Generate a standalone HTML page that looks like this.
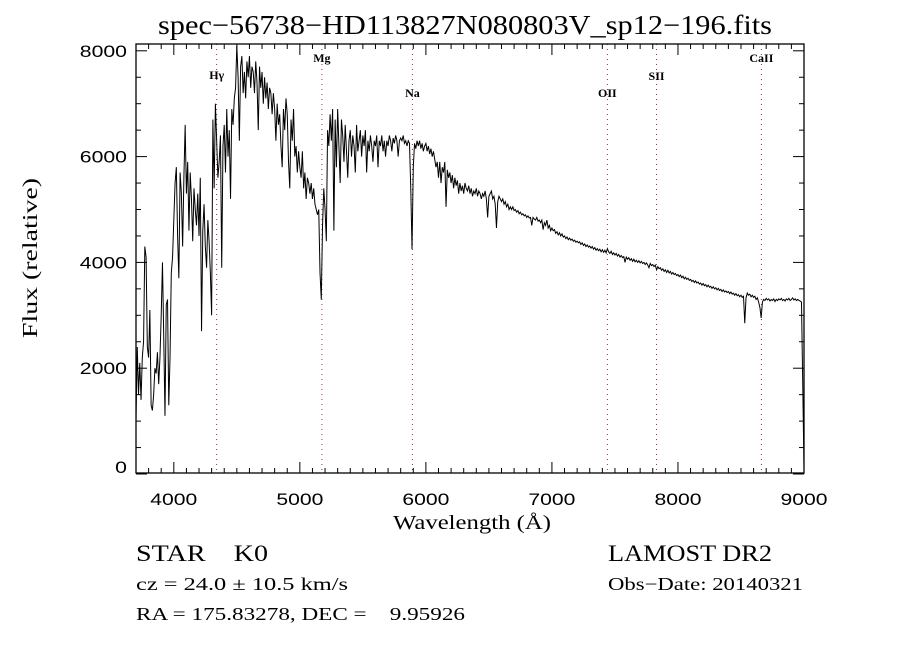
<!DOCTYPE html>
<html><head><meta charset="utf-8"><title>spec-56738 spectrum</title>
<style>
html,body{margin:0;padding:0;background:#fff;}
svg{display:block;}
text{fill:#000;}
</style></head>
<body>
<svg id="chart" width="900" height="650" viewBox="0 0 900 650" xmlns="http://www.w3.org/2000/svg">
<rect x="0" y="0" width="900" height="650" fill="#fff"/>
<text x="158" y="34" font-family="Liberation Serif, serif" font-size="27" textLength="614" lengthAdjust="spacingAndGlyphs">spec−56738−HD113827N080803V_sp12−196.fits</text>
<g id="lines"></g>
<g id="spec"></g>
<g id="axes"></g>
<text transform="translate(37,258) rotate(-90)" text-anchor="middle" font-family="Liberation Serif, serif" font-size="21" textLength="160" lengthAdjust="spacingAndGlyphs">Flux (relative)</text>
<text x="393" y="529" font-family="Liberation Serif, serif" font-size="20" textLength="158" lengthAdjust="spacingAndGlyphs">Wavelength (Å)</text>
<text x="136" y="561" font-family="Liberation Serif, serif" font-size="23" textLength="132" lengthAdjust="spacingAndGlyphs" xml:space="preserve">STAR    K0</text>
<text x="608" y="561" font-family="Liberation Serif, serif" font-size="23" textLength="164" lengthAdjust="spacingAndGlyphs">LAMOST DR2</text>
<text x="136" y="590" font-family="Liberation Serif, serif" font-size="18" textLength="212" lengthAdjust="spacingAndGlyphs">cz = 24.0 ± 10.5 km/s</text>
<text x="608" y="590" font-family="Liberation Serif, serif" font-size="18" textLength="195" lengthAdjust="spacingAndGlyphs">Obs−Date: 20140321</text>
<text x="136" y="620" font-family="Liberation Serif, serif" font-size="18" textLength="329" lengthAdjust="spacingAndGlyphs" xml:space="preserve">RA = 175.83278, DEC =    9.95926</text>
</svg>
<script>
const waveStart = 3700;
const waveStep = 10;
const flux = [
1000,2400,1500,2100,1400,2200,2500,4300,4100,2400,
2200,3100,1300,1200,1500,2000,1900,2300,1700,2200,
3000,4000,2600,1100,3200,3300,1300,2200,3800,4100,
4800,5500,5800,4500,3700,5700,5300,4300,5600,6600,
5300,5900,4600,5700,5200,4400,5400,5000,4700,5300,
4500,5600,2700,4600,5100,4300,3900,4800,4400,3800,
3000,6700,5400,7000,6300,5600,5900,6400,3900,6200,
6600,5700,6900,6000,6500,5200,6900,6600,7100,7300,
8100,7500,6300,7700,7900,7200,7600,7100,7800,7500,
7900,7300,7700,7600,7200,7800,7400,6500,7700,7300,
7600,7000,7500,7100,7400,6900,7300,7200,6800,7200,
6900,6300,7000,6600,6800,6200,5800,6900,6500,7100,
6800,5900,5400,6700,6300,6900,6000,6200,5700,6100,
5800,5600,6100,5400,5700,5200,5600,5500,5300,5500,
5200,5400,5100,5000,4900,5000,3800,3300,4700,5400,
5000,4400,6500,6200,6800,6300,6900,4600,6700,5800,
6900,6200,5500,6700,6400,5900,6600,6100,5600,6300,
6500,6000,6400,6200,5700,6600,6100,6300,6500,6000,
6400,6200,6500,5700,6300,6100,6400,6200,5900,6300,
6200,6400,5800,6300,6200,6400,6100,6300,6000,6300,
6200,6400,6300,6100,6350,6250,6400,6300,6000,6300,
6350,6300,6400,6250,6300,6200,6300,6250,5400,4250,
5800,6250,6150,6300,6200,6300,6150,6250,6100,6200,
6250,6100,6200,6050,6150,6000,6100,5950,5800,5900,
5600,5900,5500,5800,5700,5900,5050,5750,5600,5700,
5500,5650,5400,5600,5450,5550,5300,5500,5350,5450,
5300,5500,5400,5350,5450,5300,5400,5250,5350,5300,
5400,5250,5350,5300,5200,5300,5250,5350,5200,4850,
5250,5300,5350,5200,5250,5100,4650,5150,5250,5200,
5150,5200,5100,5150,5050,5100,5000,5050,5000,5050,
4980,5000,4950,4980,4920,4950,4900,4920,4880,4900,
4850,4880,4840,4850,4700,4850,4820,4800,4850,4780,
4800,4750,4800,4620,4750,4700,4800,4650,4700,4600,
4650,4600,4620,4550,4580,4520,4560,4500,4540,4480,
4500,4450,4480,4430,4460,4420,4440,4400,4420,4380,
4400,4370,4390,4340,4370,4320,4350,4300,4330,4290,
4310,4270,4300,4250,4280,4230,4260,4220,4250,4200,
4240,4190,4230,4180,4260,4200,4170,4210,4150,4180,
4140,4170,4120,4150,4100,4130,4090,4110,4000,4100,
4060,4090,4040,4070,4020,4060,4010,4040,4000,4030,
3990,4020,3980,4000,3960,3990,3950,3900,3980,3940,
3960,3920,3950,3860,3920,3880,3900,3850,3880,3830,
3860,3810,3850,3800,3830,3780,3810,3770,3790,3750,
3770,3730,3760,3710,3740,3690,3720,3680,3700,3660,
3680,3640,3660,3620,3650,3610,3630,3590,3610,3570,
3600,3560,3580,3540,3570,3530,3550,3510,3540,3500,
3520,3480,3510,3470,3490,3450,3480,3440,3460,3430,
3450,3410,3440,3400,3420,3380,3410,3370,3390,3350,
3380,3340,3360,2850,3330,3420,3380,3400,3350,3380,
3340,3360,3300,3330,3250,3150,2950,3250,3300,3280,
3320,3290,3310,3270,3300,3280,3310,3260,3300,3280,
3310,3290,3320,3280,3300,3270,3310,3290,3320,3280,
3300,3330,3290,3310,3280,3300,3280,3270,3250,1700,
100
];
const xTickLabels = [4000,5000,6000,7000,8000,9000];
const yTickLabels = [0,2000,4000,6000,8000];
const lineNames = ["Hγ","Mg","Na","OII","SII","CaII"];
const lineWaves = [4340,5175,5893,7440,7830,8662];

const L=136,R=804,T=44,B=474;
const xMin=3700,xMax=9000;
const yPerUnit=0.0529;
function xs(w){return L+(w-xMin)*(R-L)/(xMax-xMin);}
function ys(f){return B-f*yPerUnit;}
const NS="http://www.w3.org/2000/svg";
function mk(tag,attrs,parent){const e=document.createElementNS(NS,tag);for(const k in attrs)e.setAttribute(k,attrs[k]);parent.appendChild(e);return e;}

const axes=document.getElementById('axes');
const frame=mk('rect',{x:L,y:T,width:R-L,height:B-1-T,fill:'none',stroke:'#000','stroke-width':1.3},axes);



for(let w=3700;w<=9000;w+=100){
  const x=xs(w);const major=(w%1000===0);const len=major?11:5;
  const t1=mk('line',{x1:x,y1:B-1,x2:x,y2:B-1-len,stroke:'#000','stroke-width':1},axes);
  
  
  const t2=mk('line',{x1:x,y1:T,x2:x,y2:T+len,stroke:'#000','stroke-width':1},axes);
  
  
}
xTickLabels.forEach(v=>{
  const t=mk('text',{x:xs(v),y:505,'text-anchor':'middle','font-family':'Liberation Sans, sans-serif','font-size':17,textLength:47,lengthAdjust:'spacingAndGlyphs'},axes);
  t.textContent=String(v);
  
  
});
for(let f=0;f<=8000;f+=500){
  const y=ys(f);const major=(f%2000===0);const len=major?11:5;
  const t1=mk('line',{x1:L,y1:y,x2:L+len,y2:y,stroke:'#000','stroke-width':1},axes);
  
  
  const t2=mk('line',{x1:R,y1:y,x2:R-len,y2:y,stroke:'#000','stroke-width':1},axes);
  
  
}
yTickLabels.forEach(v=>{
  const s=String(v);
  const y=Math.min(ys(v)+6,473);
  const t=mk('text',{x:127,y:y,'text-anchor':'end','font-family':'Liberation Sans, sans-serif','font-size':17,textLength:11.8*s.length,lengthAdjust:'spacingAndGlyphs'},axes);
  t.textContent=s;
  
  
});

const lines=document.getElementById('lines');
const labelY=[79,62,97,97,80,62];
lineNames.forEach((n,i)=>{
  const x=xs(lineWaves[i]);
  const l=mk('line',{x1:x,y1:T,x2:x,y2:B,stroke:'#9a3030','stroke-width':1,'stroke-dasharray':'1,4'},lines);
  
  
  const t=mk('text',{x:x,y:labelY[i],'text-anchor':'middle','font-family':'Liberation Serif, serif','font-size':12,'font-weight':'bold'},lines);
  t.textContent=n;
  
  
});

const spec=document.getElementById('spec');
const pts=flux.map((f,i)=>xs(waveStart+i*waveStep).toFixed(2)+','+ys(f).toFixed(2)).join(' ');
const pl=mk('polyline',{points:pts,fill:'none',stroke:'#000','stroke-width':1,'stroke-linejoin':'miter'},spec);


</script>
</body></html>
